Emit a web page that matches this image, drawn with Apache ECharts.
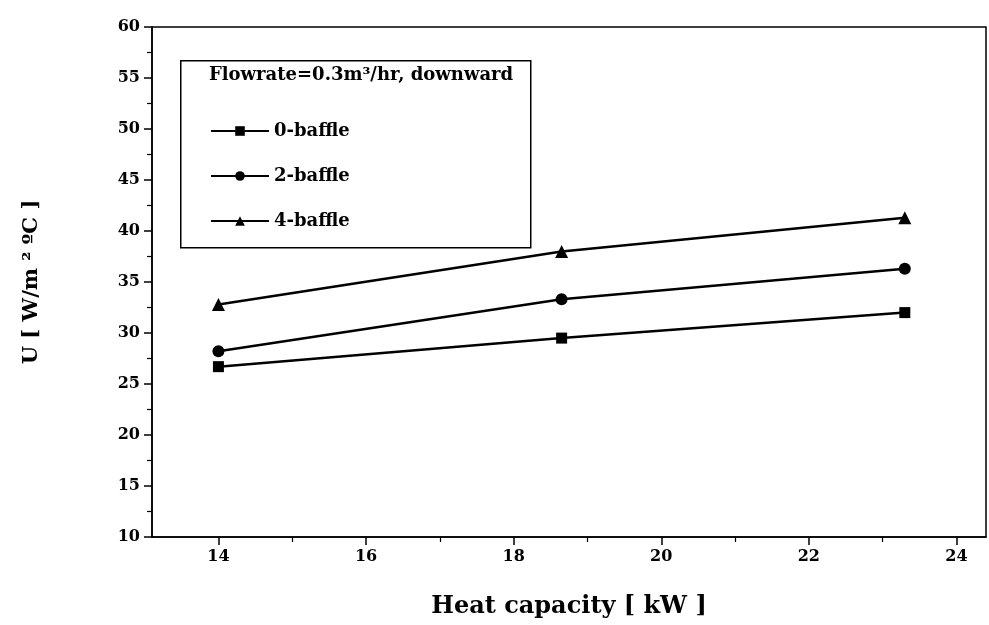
<!DOCTYPE html>
<html>
<head>
<meta charset="utf-8">
<script src="https://cdn.jsdelivr.net/npm/echarts@6/dist/echarts.min.js"></script>
<style>html,body{margin:0;padding:0;background:#fff}#c{width:989px;height:625px}</style>
</head>
<body>
<div id="c"></div>
<script>
const heatCapacity = [14.0, 18.65, 23.3];
const baffle0 = [26.7, 29.5, 32.0];
const baffle2 = [28.2, 33.3, 36.3];
const baffle4 = [32.8, 38.0, 41.3];
const seriesNames = ['0-baffle', '2-baffle', '4-baffle'];
const xMajorTicks = [14, 16, 18, 20, 22, 24];
const xMinorTicks = [15, 17, 19, 21, 23];
const legendTitle = 'Flowrate=0.3m\u00B3/hr, downward';

const FONT = '"DejaVu Serif","Liberation Serif",serif';
const chart = echarts.init(document.getElementById('c'));
function mk(name, vals, sym, size) {
  return {
    name: name, type: 'line', xAxisIndex: 0,
    data: heatCapacity.map((x, i) => [x, vals[i]]),
    symbol: sym, symbolSize: size,
    lineStyle: {color: '#000', width: 2.5},
    itemStyle: {color: '#000'},
    animation: false
  };
}
chart.setOption({
  backgroundColor: '#fff',
  animation: false,
  grid: {left: 152, right: 3, top: 27, bottom: 88, outerBoundsMode: 'none', containLabel: false, show: true, borderColor: '#000', borderWidth: 1.5, backgroundColor: 'transparent'},
  xAxis: [{
    type: 'value', min: 13.1, max: 24.4,
    name: 'Heat capacity [ kW ]', nameLocation: 'middle', nameGap: 58,
    nameTextStyle: {fontFamily: FONT, fontSize: 24, color: '#000', fontWeight: 'bold'},
    axisLine: {show: true, lineStyle: {color: '#000', width: 1.5}},
    axisTick: {show: true, inside: false, length: 8, lineStyle: {color: '#000', width: 1.5}, customValues: xMajorTicks},
    axisLabel: {show: true, customValues: xMajorTicks, margin: 12, fontFamily: FONT, fontSize: 16, color: '#000', fontWeight: 'bold'},
    splitLine: {show: false}
  }, {
    type: 'value', min: 13.1, max: 24.4, position: 'bottom',
    axisLine: {show: false},
    axisTick: {show: true, inside: false, length: 5, lineStyle: {color: '#000', width: 1.2}, customValues: xMinorTicks},
    axisLabel: {show: false},
    splitLine: {show: false}
  }],
  yAxis: {
    type: 'value', min: 10, max: 60, interval: 5,
    name: 'U [ W/m \u00B2 \u00BAC ]', nameLocation: 'middle', nameGap: 110,
    nameTextStyle: {fontFamily: FONT, fontSize: 21, color: '#000', fontWeight: 'bold'},
    axisLine: {show: true, lineStyle: {color: '#000', width: 1.5}},
    axisTick: {show: true, inside: false, length: 8, lineStyle: {color: '#000', width: 1.5}},
    minorTick: {show: true, splitNumber: 2, length: 5, lineStyle: {color: '#000', width: 1.2}},
    axisLabel: {margin: 12, fontFamily: FONT, fontSize: 16, color: '#000', fontWeight: 'bold'},
    splitLine: {show: false}
  },
  legend: {
    data: seriesNames, orient: 'vertical', left: 205, top: 117,
    itemWidth: 58, itemHeight: 12, itemGap: 27,
    textStyle: {fontFamily: FONT, fontSize: 18, color: '#000', fontWeight: 'bold'}
  },
  graphic: [
    {type: 'rect', left: 180, top: 60, shape: {width: 350, height: 187}, style: {fill: 'transparent', stroke: '#000', lineWidth: 1.5}, z: 1},
    {type: 'text', left: 209, top: 66, style: {text: legendTitle, font: 'bold 18px ' + FONT, fill: '#000'}, z: 2}
  ],
  series: [
    mk(seriesNames[0], baffle0, 'rect', 11),
    mk(seriesNames[1], baffle2, 'circle', 12),
    mk(seriesNames[2], baffle4, 'triangle', 13)
  ]
});
</script>
</body>
</html>
